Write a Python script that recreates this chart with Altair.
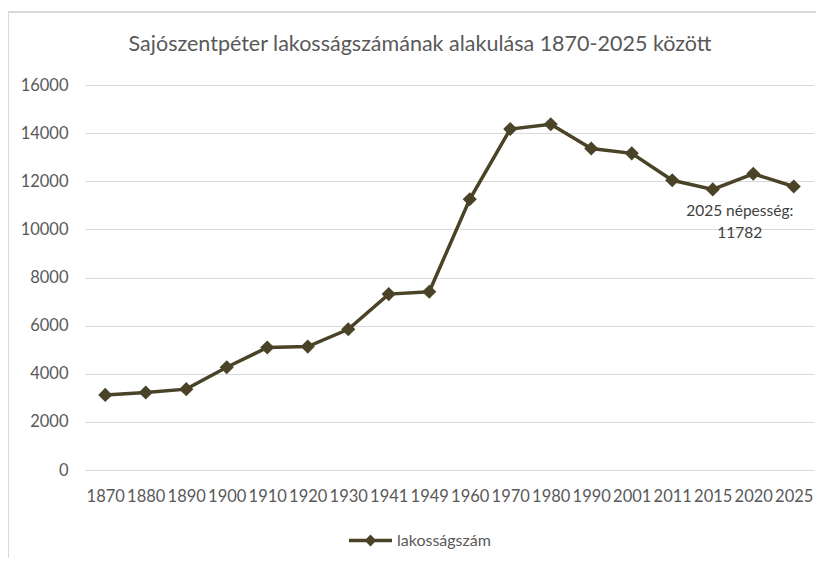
import altair as alt
import pandas as pd

years = ["1870", "1880", "1890", "1900", "1910", "1920", "1930", "1941", "1949",
         "1960", "1970", "1980", "1990", "2001", "2011", "2015", "2020", "2025"]
population = [3120, 3220, 3360, 4270, 5090, 5130, 5850, 7310, 7410,
              11250, 14170, 14370, 13360, 13160, 12040, 11660, 12310, 11782]
series_name = "lakosságszám"
title_text = "Sajószentpéter lakosságszámának alakulása 1870-2025 között"

LINE = "#4b4327"
GRID = "#d9d9d9"
TXT = "#595959"
FONT = "Lato"

df = pd.DataFrame({"ev": years, "lakossag": population, "sorozat": series_name})
last = pd.DataFrame({"ev": [years[-1]], "lakossag": [population[-1]],
                     "label": [[f"{years[-1]} népesség:", f"{population[-1]}"]]})
title_df = pd.DataFrame({"t": [title_text]})

x = alt.X("ev:N", sort=years, title=None,
          scale=alt.Scale(paddingInner=0, paddingOuter=0),
          axis=alt.Axis(labelAngle=0, labelOverlap=False, ticks=False, domain=False,
                        labelPadding=18, labelFontSize=16.5, labelColor=TXT,
                        labelFont=FONT, grid=False))
y = alt.Y("lakossag:Q", title=None,
          scale=alt.Scale(domain=[0, 16000], nice=False),
          axis=alt.Axis(values=list(range(0, 16001, 2000)), format="d", ticks=False,
                        domain=False, labelPadding=17, labelFontSize=16.5, labelColor=TXT,
                        labelFont=FONT, gridColor=GRID, gridWidth=1))
color = alt.Color("sorozat:N", scale=alt.Scale(range=[LINE]), title=None,
                  legend=alt.Legend(orient="none", legendX=262, legendY=432,
                                    symbolType="M-1,0L1,0M0,-0.16L0.16,0L0,0.16L-0.16,0Z",
                                    symbolSize=1849, symbolStrokeWidth=3.5,
                                    symbolFillColor=LINE, symbolStrokeColor=LINE,
                                    labelFontSize=16, labelColor=TXT, labelFont=FONT,
                                    labelOffset=3, padding=0))

base = alt.Chart(df)
line = base.mark_line(strokeWidth=3.5).encode(x=x, y=y, color=color)
pts = base.mark_point(shape="diamond", size=200, filled=True, opacity=1).encode(
    x=x, y=y, color=color)

lab = alt.Chart(last).mark_text(font=FONT, fontSize=15.5, color="#404040", align="center",
                                baseline="middle", dx=-54, dy=25, lineHeight=22).encode(
    x=alt.X("ev:N", sort=years), y="lakossag:Q", text="label")

title = alt.Chart(title_df).mark_text(font=FONT, fontSize=21.5, color=TXT,
                                      align="center", baseline="middle").encode(
    x=alt.value(335), y=alt.value(-40), text="t")

border_left = alt.Chart(df).mark_rule(color=GRID, strokeWidth=1.5).encode(
    x=alt.value(-77), y=alt.value(-73), y2=alt.value(480))
border_top = alt.Chart(df).mark_rule(color=GRID, strokeWidth=1.5).encode(
    x=alt.value(-77), x2=alt.value(731), y=alt.value(-73))

chart = alt.layer(border_left, border_top, line, pts, lab, title).properties(
    width=729, height=385,
    autosize=alt.AutoSizeParams(type="none"),
    padding={"left": 77, "top": 77, "right": 2, "bottom": 88},
).configure_view(stroke=None)

chart.save("out.html", embed_options={"renderer": "svg", "actions": False})
